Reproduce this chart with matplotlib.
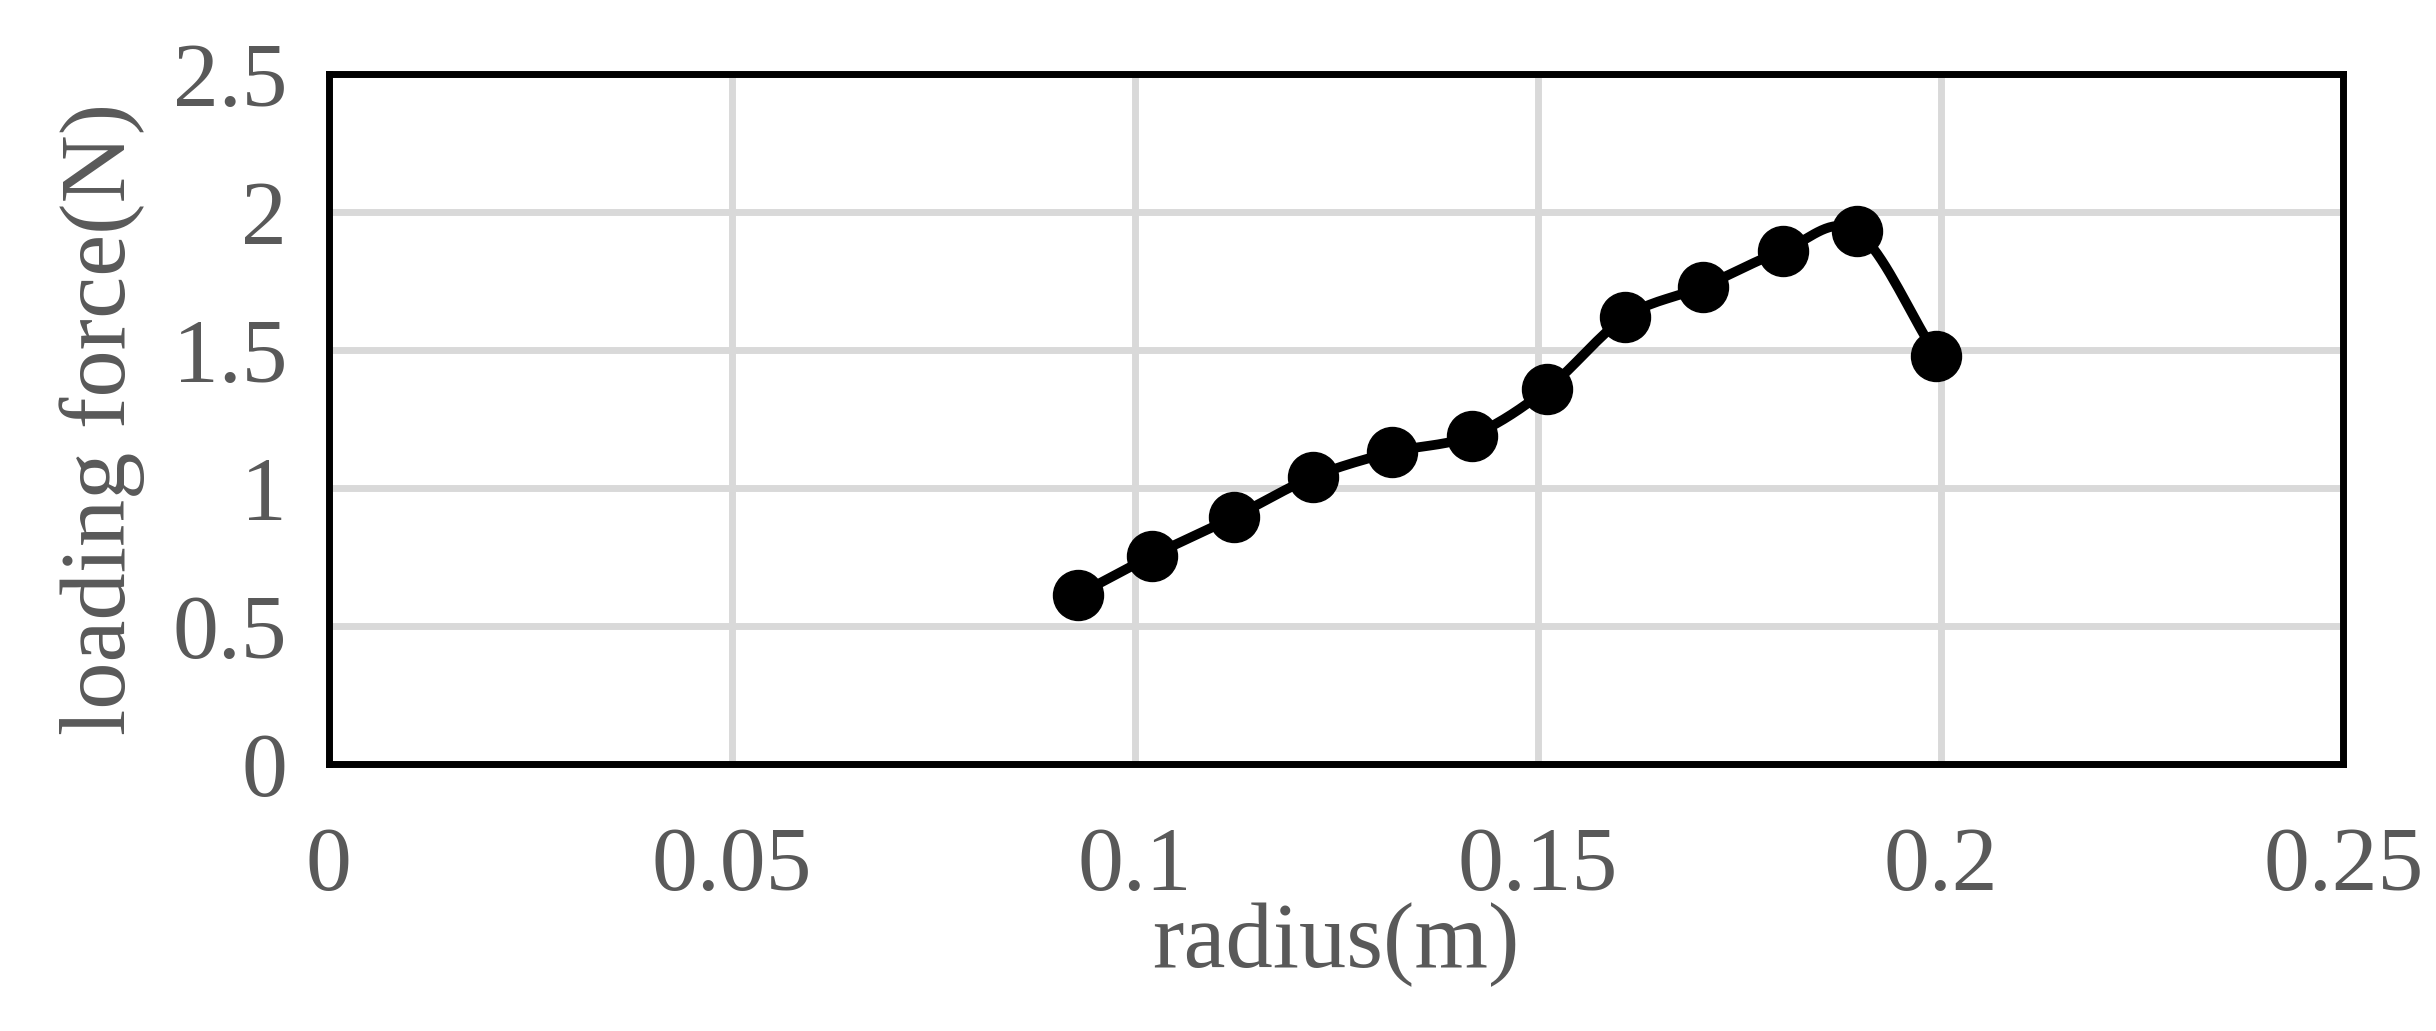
import matplotlib.pyplot as plt
import numpy as np

radius = [0.093, 0.1022, 0.1123, 0.1221, 0.1319, 0.1418, 0.1512, 0.1609, 0.1705, 0.1804, 0.1896, 0.1995]
force = [0.614, 0.755, 0.895, 1.04, 1.13, 1.19, 1.36, 1.62, 1.73, 1.86, 1.93, 1.48]
xticks = [0, 0.05, 0.1, 0.15, 0.2, 0.25]
yticks = [0, 0.5, 1, 1.5, 2, 2.5]


def smooth(x, y, n=20):
    # Catmull-Rom curve through the points, like Excel's smoothed line
    x = np.asarray(x); y = np.asarray(y)
    px = np.concatenate([[2 * x[0] - x[1]], x, [2 * x[-1] - x[-2]]])
    py = np.concatenate([[2 * y[0] - y[1]], y, [2 * y[-1] - y[-2]]])
    t = np.linspace(0, 1, n)[:, None]
    ox, oy = [], []
    for i in range(1, len(px) - 2):
        for p, out in ((px, ox), (py, oy)):
            p0, p1, p2, p3 = p[i - 1], p[i], p[i + 1], p[i + 2]
            c = 0.5 * (2 * p1 + (-p0 + p2) * t + (2 * p0 - 5 * p1 + 4 * p2 - p3) * t ** 2
                       + (-p0 + 3 * p1 - 3 * p2 + p3) * t ** 3)
            out.extend(c.ravel())
    return ox, oy


plt.rcParams['font.family'] = ['Liberation Serif', 'DejaVu Serif']
fig = plt.figure(figsize=(24.36, 10.31), dpi=100)
ax = fig.add_axes([0.135, 0.259, 0.827, 0.669])

sx, sy = smooth(radius, force)
ax.plot(sx, sy, color='black', lw=7, zorder=3)
ax.plot(radius, force, 'o', color='black', ms=36, zorder=4)

ax.set_xlim(0, 0.25)
ax.set_ylim(0, 2.5)
ax.set_xticks(xticks)
ax.set_xticklabels(['0', '0.05', '0.1', '0.15', '0.2', '0.25'])
ax.set_yticks(yticks)
ax.set_yticklabels(['0', '0.5', '1', '1.5', '2', '2.5'])
ax.grid(True, color='#d9d9d9', lw=5)
ax.set_axisbelow(True)
for s in ax.spines.values():
    s.set_linewidth(5)
ax.tick_params(length=0, labelsize=66, colors='#595959', pad=45)
ax.tick_params(axis='y', pad=30)
ax.set_xlabel('radius(m)', fontsize=68, color='#595959', labelpad=-5)
ax.set_ylabel('loading force(N)', fontsize=68, color='#595959', labelpad=20)

fig.savefig('out.png', dpi=100)
